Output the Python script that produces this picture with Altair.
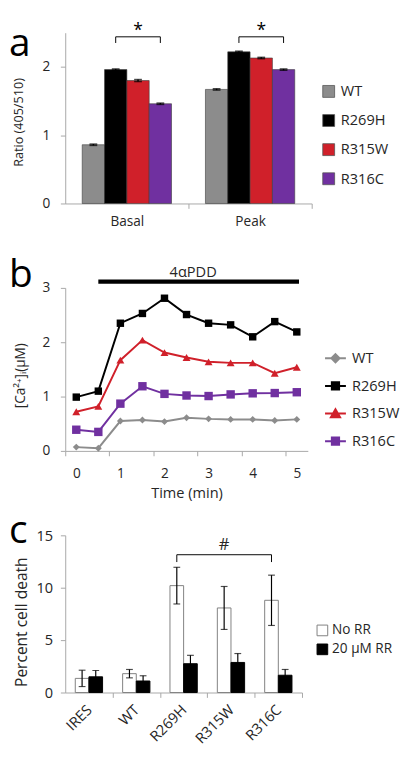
import altair as alt
import pandas as pd

FONT = "Open Sans"
TXT = "#262626"
AX = "#a6a6a6"

panel_letters = ["a", "b", "c"]

# ---------------- panel a ----------------
a_groups = ["Basal", "Peak"]
a_series = ["WT", "R269H", "R315W", "R316C"]
a_colors = ["#8c8c8c", "#000000", "#d0202a", "#7030a0"]
a_basal = [0.86, 1.96, 1.80, 1.46]
a_peak = [1.67, 2.22, 2.13, 1.96]
a_basal_err = [0.01, 0.01, 0.015, 0.01]
a_peak_err = [0.01, 0.01, 0.01, 0.01]
a_y_ticks = [0, 1, 2]
a_y_domain = [0, 2.5]
a_bracket_ends = ["R269H", "R316C"]
a_bracket_levels = [2.35, 2.44]
a_star_series = "R315W"
a_star_y = 2.53

# ---------------- panel b ----------------
b_times = [0, 0.5, 1, 1.5, 2, 2.5, 3, 3.5, 4, 4.5, 5]
b_series = ["WT", "R269H", "R315W", "R316C"]
b_wt = [0.07, 0.05, 0.55, 0.57, 0.54, 0.61, 0.59, 0.58, 0.58, 0.56, 0.58]
b_r269h = [0.99, 1.10, 2.35, 2.53, 2.81, 2.51, 2.35, 2.32, 2.10, 2.38, 2.19]
b_r315w = [0.72, 0.82, 1.67, 2.04, 1.81, 1.72, 1.64, 1.62, 1.62, 1.43, 1.54]
b_r316c = [0.39, 0.35, 0.87, 1.19, 1.05, 1.02, 1.01, 1.04, 1.06, 1.065, 1.08]
b_colors = ["#8c8c8c", "#000000", "#d0202a", "#7030a0"]
b_shapes = ["diamond", "square", "triangle-up", "square"]
b_sizes = [50, 75, 80, 62]
b_x_domain = [-0.25, 5.25]
b_x_labels = [0, 1, 2, 3, 4, 5]
b_y_ticks = [0, 1, 2, 3]
b_y_domain = [0, 3]
b_drug = "4αPDD"
b_drug_start, b_drug_end, b_drug_y = 0.5, 5.05, 3.115
b_drug_label_x, b_drug_label_y = 2.65, 3.29

# ---------------- panel c ----------------
c_cats = ["IRES", "WT", "R269H", "R315W", "R316C"]
c_conds = ["No RR", "20 µM RR"]
c_norr = [1.35, 1.8, 10.2, 8.07, 8.8]
c_norr_err = [0.78, 0.4, 1.75, 2.05, 2.4]
c_rr = [1.5, 1.1, 2.75, 2.87, 1.65]
c_rr_err = [0.6, 0.5, 0.8, 0.85, 0.55]
c_fills = ["#ffffff", "#000000"]
c_strokes = ["#7f7f7f", "#000000"]
c_y_ticks = [0, 5, 10, 15]
c_y_domain = [0, 15]
c_bracket_ends = ["R269H", "R316C"]
c_bracket_levels = [12.45, 13.15]
c_hash_cat = "R315W"
c_hash_y = 14.05

WA, HA = 254, 176
WB, HB = 250, 168
WC, HC = 244, 162
GAP = 87
A_PAD = 0.76   # outer gap of each bar group, in bar widths
C_PAD = 0.735


def letter(ch, y):
    return alt.Chart(pd.DataFrame({"t": [ch]})).mark_text(
        font=FONT, fontSize=40, align="left", baseline="alphabetic", color="#000000"
    ).encode(text="t:N", x=alt.value(-58), y=alt.value(y))


def names_expr(names):
    return "[" + ",".join("'" + n + "'" for n in names) + "][datum.value]"


def ternary(keys, vals):
    expr = "'" + vals[-1] + "'"
    for k, v in reversed(list(zip(keys[:-1], vals[:-1]))):
        expr = "datum.value === '" + k + "' ? '" + v + "' : " + expr
    return expr


# ================= panel a =================
a_bw = 1.0 / (len(a_series) + 2 * A_PAD)
a_rows = []
for gi, (g, vals, errs) in enumerate([("Basal", a_basal, a_basal_err), ("Peak", a_peak, a_peak_err)]):
    for si, (s, v, e) in enumerate(zip(a_series, vals, errs)):
        x0 = gi + (A_PAD + si) * a_bw
        a_rows.append(dict(group=g, series=s, value=v, lo=v - e, hi=v + e,
                           x0=x0, x1=x0 + a_bw, xc=x0 + a_bw / 2))
a_df = pd.DataFrame(a_rows)
a_center = {(r.group, r.series): r.xc for r in a_df.itertuples()}

a_br = []
for g in a_groups:
    e0, e1 = a_bracket_ends
    a_br += [
        dict(group=g, xc=a_center[(g, e0)], value=a_bracket_levels[0], o=0),
        dict(group=g, xc=a_center[(g, e0)], value=a_bracket_levels[1], o=1),
        dict(group=g, xc=a_center[(g, e1)], value=a_bracket_levels[1], o=2),
        dict(group=g, xc=a_center[(g, e1)], value=a_bracket_levels[0], o=3),
    ]
a_br_df = pd.DataFrame(a_br)
a_star_df = pd.DataFrame({"xc": [a_center[(g, a_star_series)] for g in a_groups],
                          "value": [a_star_y] * 2, "t": ["*"] * 2})

sxa = alt.Scale(domain=[0, len(a_groups)], nice=False, zero=False)
sya = alt.Scale(domain=a_y_domain, nice=False)
xa = alt.X("x0:Q", scale=sxa,
           axis=alt.Axis(title=None, values=list(range(len(a_groups))), labelExpr=names_expr(a_groups),
                         tickOffset=WA / len(a_groups), labelOffset=-WA / len(a_groups) / 2,
                         labelFlush=False, labelOverlap=False, labelAngle=0,
                         labelPadding=7, labelFontSize=14))
ya = alt.Y("value:Q", scale=sya,
           axis=alt.Axis(values=a_y_ticks, format="d", title="Ratio (405/510)", titleFontSize=13,
                         titleX=-48, titleY=HA / 2 + 4, titleBaseline="middle", titleAlign="center",
                         labelFontSize=14, labelPadding=11))

a_legend = alt.Legend(orient="none", legendX=264, legendY=53, title=None, labelFontSize=15,
                      labelColor=TXT, symbolType="square", symbolSize=150,
                      symbolStrokeColor="#555555", symbolStrokeWidth=0.8, labelOffset=5,
                      rowPadding=13, padding=0)

a_bars = alt.Chart(a_df).mark_bar(stroke="#3a3a3a", strokeWidth=0.6).encode(
    x=xa, x2="x1:Q", y=ya, y2=alt.datum(0),
    color=alt.Color("series:N", scale=alt.Scale(domain=a_series, range=a_colors), legend=a_legend))
a_err = alt.Chart(a_df).mark_rule(color="black", strokeWidth=1.5).encode(
    x=alt.X("xc:Q", scale=sxa), y=alt.Y("lo:Q", scale=sya), y2="hi:Q")
a_cap_hi = alt.Chart(a_df).mark_tick(color="black", thickness=1.5, size=8, orient="horizontal").encode(
    x=alt.X("xc:Q", scale=sxa), y=alt.Y("hi:Q", scale=sya))
a_cap_lo = alt.Chart(a_df).mark_tick(color="black", thickness=1.5, size=8, orient="horizontal").encode(
    x=alt.X("xc:Q", scale=sxa), y=alt.Y("lo:Q", scale=sya))
a_bracket = alt.Chart(a_br_df).mark_line(color="black", strokeWidth=1).encode(
    x=alt.X("xc:Q", scale=sxa), y=alt.Y("value:Q", scale=sya), detail="group:N", order="o:Q")
a_star = alt.Chart(a_star_df).mark_text(font=FONT, fontSize=18, baseline="middle", color="black").encode(
    x=alt.X("xc:Q", scale=sxa), y=alt.Y("value:Q", scale=sya), text="t:N")

panel_a = alt.layer(a_bars, a_err, a_cap_hi, a_cap_lo, a_bracket, a_star,
                    letter(panel_letters[0], 24)).properties(width=WA, height=HA)

# ================= panel b =================
b_rows = []
for s, vals in zip(b_series, [b_wt, b_r269h, b_r315w, b_r316c]):
    for t, v in zip(b_times, vals):
        b_rows.append(dict(series=s, line_series=s, time=t, value=v))
b_df = pd.DataFrame(b_rows)


def rings(pts, scales=(1.0, 0.7, 0.45, 0.2)):
    out = ""
    for k in scales:
        p = [(x * k, y * k) for x, y in pts]
        out += "M%.3f,%.3f" % p[0] + "".join("L%.3f,%.3f" % q for q in p[1:]) + "Z"
    return out


marker_pts = {
    "diamond": [(0, -0.85), (0.85, 0), (0, 0.85), (-0.85, 0)],
    "square": [(-0.75, -0.75), (0.75, -0.75), (0.75, 0.75), (-0.75, 0.75)],
    "triangle-up": [(0, -0.9), (0.95, 0.75), (-0.95, 0.75)],
}
leg_paths = ["M-2.15,0L2.15,0" + rings(marker_pts[s]) for s in b_shapes]

b_unit = WB / (b_x_domain[1] - b_x_domain[0])
b_legend = alt.Legend(orient="none", legendX=271, legendY=65, title=None,
                      symbolType={"expr": ternary(b_series, leg_paths)},
                      symbolFillColor={"expr": ternary(b_series, b_colors)},
                      symbolSize=100, symbolStrokeWidth=2, labelFontSize=15, labelColor=TXT,
                      labelOffset=9.5, rowPadding=11.5, padding=0)

sxb = alt.Scale(domain=b_x_domain, nice=False, zero=False)
syb = alt.Scale(domain=b_y_domain, nice=False)
xb = alt.X("time:Q", scale=sxb,
           axis=alt.Axis(values=b_x_labels, format="d", title="Time (min)", titleFontSize=15,
                         titlePadding=6, tickOffset=-0.25 * b_unit, labelOffset=0.25 * b_unit,
                         labelFlush=False, labelOverlap=False, labelPadding=11, labelFontSize=14))
yb = alt.Y("value:Q", scale=syb,
           axis=alt.Axis(values=b_y_ticks, format="d", title="[Ca²⁺]ᵢ(µM)", titleFontSize=14,
                         titleX=-46, titleY=HB / 2 + 6, titleBaseline="middle", titleAlign="center",
                         labelFontSize=14, labelPadding=11))

b_lines = alt.Chart(b_df).mark_line(strokeWidth=2).encode(
    x=xb, y=yb,
    color=alt.Color("line_series:N", sort=b_series, scale=alt.Scale(range=b_colors), legend=b_legend))
b_points = alt.Chart(b_df).mark_point(filled=True, opacity=1).encode(
    x=alt.X("time:Q", scale=sxb), y=alt.Y("value:Q", scale=syb),
    fill=alt.Fill("series:N", scale=alt.Scale(domain=b_series, range=b_colors), legend=None),
    shape=alt.Shape("series:N", scale=alt.Scale(domain=b_series, range=b_shapes), legend=None),
    size=alt.Size("series:N", scale=alt.Scale(domain=b_series, range=b_sizes), legend=None))
b_drug_df = pd.DataFrame({"start": [b_drug_start], "end": [b_drug_end], "y": [b_drug_y]})
b_drug_bar = alt.Chart(b_drug_df).mark_rule(color="black", strokeWidth=4.5).encode(
    x=alt.X("start:Q", scale=sxb), x2="end:Q", y=alt.Y("y:Q", scale=syb))
b_drug_txt = alt.Chart(pd.DataFrame({"x": [b_drug_label_x], "y": [b_drug_label_y], "t": [b_drug]})).mark_text(
    font=FONT, fontSize=15, baseline="middle", color=TXT).encode(
    x=alt.X("x:Q", scale=sxb), y=alt.Y("y:Q", scale=syb), text="t:N")

panel_b = alt.layer(b_lines, b_points, b_drug_bar, b_drug_txt,
                    letter(panel_letters[1], -1)).properties(width=WB, height=HB)

# ================= panel c =================
c_bw = 1.0 / (len(c_conds) + 2 * C_PAD)
c_rows = []
for ci, (cond, vals, errs) in enumerate([(c_conds[0], c_norr, c_norr_err), (c_conds[1], c_rr, c_rr_err)]):
    for ki, (k, v, e) in enumerate(zip(c_cats, vals, errs)):
        x0 = ki + (C_PAD + ci) * c_bw
        c_rows.append(dict(cat=k, cond=cond, value=v, lo=v - e, hi=v + e,
                           x0=x0, x1=x0 + c_bw, xc=x0 + c_bw / 2))
c_df = pd.DataFrame(c_rows)
c_center = {(r.cat, r.cond): r.xc for r in c_df.itertuples()}

e0, e1 = c_bracket_ends
c_br_df = pd.DataFrame([
    dict(xc=c_center[(e0, c_conds[0])], value=c_bracket_levels[0], o=0),
    dict(xc=c_center[(e0, c_conds[0])], value=c_bracket_levels[1], o=1),
    dict(xc=c_center[(e1, c_conds[0])], value=c_bracket_levels[1], o=2),
    dict(xc=c_center[(e1, c_conds[0])], value=c_bracket_levels[0], o=3),
])
c_hash_df = pd.DataFrame({"xc": [c_center[(c_hash_cat, c_conds[0])]], "value": [c_hash_y], "t": ["#"]})

sxc = alt.Scale(domain=[0, len(c_cats)], nice=False, zero=False)
syc = alt.Scale(domain=c_y_domain, nice=False)
xc_enc = alt.X("x0:Q", scale=sxc,
               axis=alt.Axis(title=None, values=list(range(len(c_cats))), labelExpr=names_expr(c_cats),
                             tickOffset=WC / len(c_cats), labelOffset=-WC / len(c_cats) / 2,
                             labelFlush=False, labelOverlap=False, labelAngle=-45,
                             labelAlign="right", labelBaseline="middle", labelPadding=10,
                             labelFontSize=15))
yc = alt.Y("value:Q", scale=syc,
           axis=alt.Axis(values=c_y_ticks, format="d", title="Percent cell death", titleFontSize=16,
                         titleX=-45, titleY=HC / 2 + 8, titleBaseline="middle", titleAlign="center",
                         labelFontSize=15, labelPadding=8))
c_legend = alt.Legend(orient="none", legendX=258, legendY=91, title=None, labelFontSize=14,
                      labelColor=TXT, symbolType="square", symbolSize=121,
                      symbolStrokeColor="#7f7f7f", symbolStrokeWidth=1, labelOffset=3,
                      rowPadding=3.5, padding=0)

c_bars = alt.Chart(c_df).mark_bar(strokeWidth=1).encode(
    x=xc_enc, x2="x1:Q", y=yc, y2=alt.datum(0),
    fill=alt.Fill("cond:N", scale=alt.Scale(domain=c_conds, range=c_fills), legend=c_legend),
    stroke=alt.Stroke("cond:N", scale=alt.Scale(domain=c_conds, range=c_strokes), legend=None))
c_err = alt.Chart(c_df).mark_rule(color="black", strokeWidth=1.2).encode(
    x=alt.X("xc:Q", scale=sxc), y=alt.Y("lo:Q", scale=syc), y2="hi:Q")
c_cap_hi = alt.Chart(c_df).mark_tick(color="black", thickness=1.2, size=7, orient="horizontal").encode(
    x=alt.X("xc:Q", scale=sxc), y=alt.Y("hi:Q", scale=syc))
c_cap_lo = alt.Chart(c_df).mark_tick(color="black", thickness=1.2, size=7, orient="horizontal").encode(
    x=alt.X("xc:Q", scale=sxc), y=alt.Y("lo:Q", scale=syc))
c_bracket = alt.Chart(c_br_df).mark_line(color="black", strokeWidth=1).encode(
    x=alt.X("xc:Q", scale=sxc), y=alt.Y("value:Q", scale=syc), order="o:Q")
c_hash = alt.Chart(c_hash_df).mark_text(font=FONT, fontSize=17, baseline="middle", color=TXT).encode(
    x=alt.X("xc:Q", scale=sxc), y=alt.Y("value:Q", scale=syc), text="t:N")

panel_c = alt.layer(c_bars, c_err, c_cap_hi, c_cap_lo, c_bracket, c_hash,
                    letter(panel_letters[2], 8)).properties(width=WC, height=HC)

chart = alt.vconcat(panel_a, panel_b, panel_c, spacing=GAP, bounds="flush").resolve_scale(
    color="independent", fill="independent", stroke="independent",
    shape="independent", size="independent"
).properties(padding={"left": 1, "top": 2, "right": 0, "bottom": 0}).configure_view(
    stroke=None).configure_axis(
    labelFont=FONT, titleFont=FONT, labelColor=TXT, titleColor=TXT,
    domainColor=AX, tickColor=AX, grid=False, tickSize=5, titleFontWeight="normal"
).configure_legend(labelFont=FONT).configure_text(font=FONT)

chart.save("out.html", embed_options={"renderer": "svg", "actions": False})
